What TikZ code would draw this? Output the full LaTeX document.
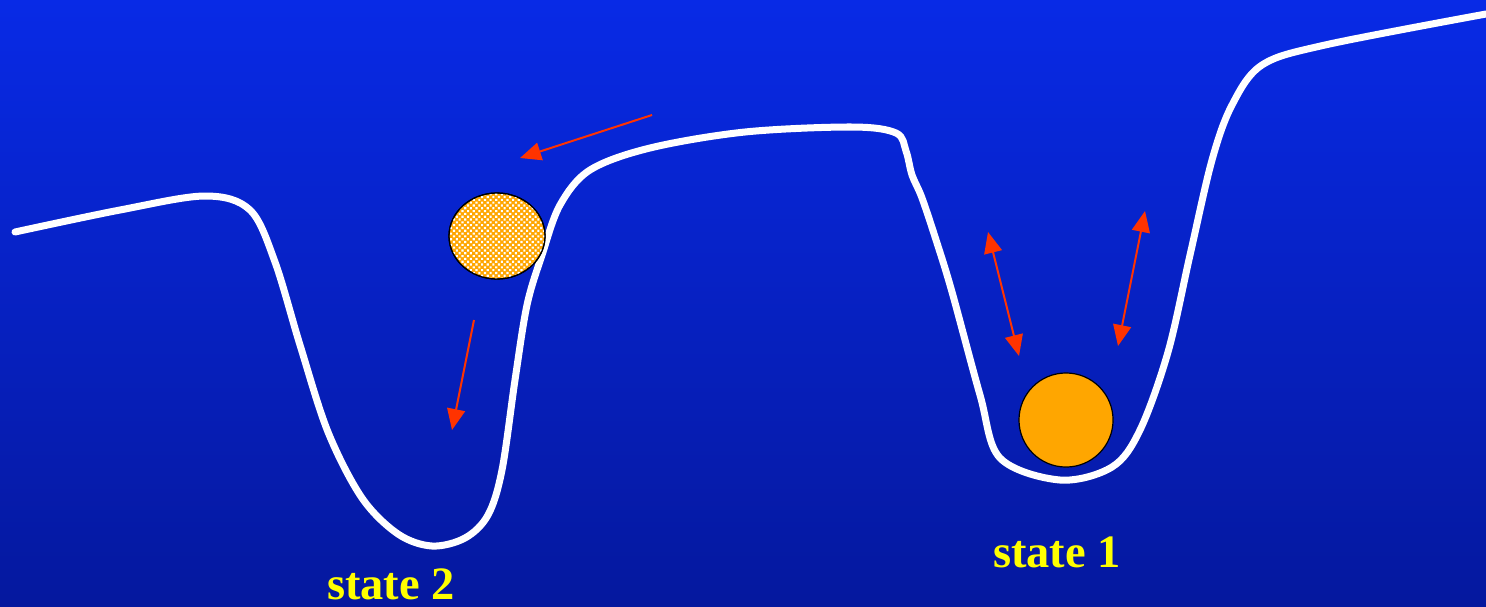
\documentclass[tikz,border=0pt]{standalone}
\usepackage{fontspec}
\setmainfont{Liberation Serif}
\usetikzlibrary{arrows.meta,patterns,shapes.geometric}
\definecolor{bgtop}{RGB}{8,42,230}
\definecolor{bgbot}{RGB}{5,24,158}
\definecolor{ball}{RGB}{255,166,0}
\definecolor{arr}{RGB}{255,51,0}
\definecolor{lab}{RGB}{255,255,0}
\pgfdeclarepatternformonly{finecheck}{\pgfqpoint{-0.1pt}{-0.1pt}}{\pgfqpoint{1.7pt}{1.7pt}}{\pgfqpoint{1.6pt}{1.6pt}}{%
  \pgfpathrectangle{\pgfqpoint{0pt}{0pt}}{\pgfqpoint{0.6pt}{0.6pt}}%
  \pgfpathrectangle{\pgfqpoint{0.8pt}{0.8pt}}{\pgfqpoint{0.6pt}{0.6pt}}%
  \pgfusepath{fill}}
\tikzset{
  landscape/.style={white, line width=0.07cm, line join=round, line cap=round},
  redarrow/.style={arr, line width=0.02cm, -{Triangle[length=0.21cm,width=0.18cm]}},
  redboth/.style={arr, line width=0.02cm, {Triangle[length=0.21cm,width=0.18cm]}-{Triangle[length=0.21cm,width=0.18cm]}},
  statelabel/.style={text=lab, font=\fontsize{13.2}{15}\selectfont\bfseries, inner sep=0pt},
  ballstyle/.style={draw=black, line width=0.012cm, fill=ball, inner sep=0pt},
}
\begin{document}
\begin{tikzpicture}[x=0.01cm,y=-0.01cm]
\shade[top color=bgtop, bottom color=bgbot] (0,0) rectangle (1486,606);
\useasboundingbox (0,0) rectangle (1486,606);
\draw[landscape] plot[smooth, tension=0.55] coordinates {
 (15,232) (120,210) (205,196) (250,210) (275,262) (300,345) (328,432)
 (362,498) (398,534) (432,546) (465,538) (488,515) (502,470) (515,380) (527,305) (542,255)
 (560,205) (590,170) (650,148) (745,132) (852,127) (896,133) (906,151)
 (912,175) (922,198) (937,243) (952,292) (980,395) (1000,458) (1060,480) (1112,467) (1140,430)
 (1168,352) (1190,255) (1212,160) (1232,105) (1262,65) (1325,45) (1486,14)};
\node[ballstyle, ellipse, minimum width=0.96cm, minimum height=0.86cm,
  postaction={pattern=finecheck, pattern color=white}] (hb) at (497,236) {};
\draw[black, line width=0.012cm] (hb.center) ellipse [x radius=48, y radius=43];
\node[ballstyle, circle, minimum size=0.94cm] (sb) at (1066,420) {};
\coordinate (a1s) at (652,115); \coordinate (a1e) at (520,158);
\coordinate (a2s) at (474,320); \coordinate (a2e) at (452,430);
\coordinate (a3s) at (988,232); \coordinate (a3e) at (1019,356);
\coordinate (a4s) at (1145,211); \coordinate (a4e) at (1118,346);
\draw[redarrow] (a1s) -- (a1e);
\draw[redarrow] (a2s) -- (a2e);
\draw[redboth] (a3s) -- (a3e);
\draw[redboth] (a4s) -- (a4e);
\node[statelabel] (s2) at (391,584) {state 2};
\node[statelabel] (s1) at (1057,552) {state 1};
\end{tikzpicture}
\end{document}
